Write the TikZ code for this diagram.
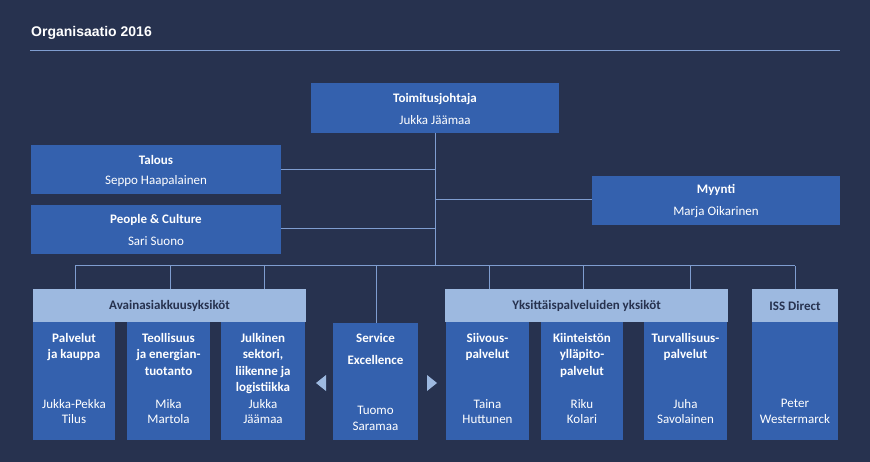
\documentclass[tikz,border=0pt]{standalone}
\usepackage{fontspec}
\setmainfont{Carlito}
\newfontfamily\titlefont{Liberation Sans}
\begin{document}
\begin{tikzpicture}[x=1pt,y=-1pt,
  bg/.style={fill=navy},
  box/.style={fill=boxblue,draw=none},
  hdr/.style={fill=hdrblue,draw=none},
  ln/.style={draw=lineblue,line width=1pt},
  t/.style={text=white,font=\fontsize{13}{15.5}\selectfont,align=center,inner sep=0pt},
  tb/.style={t,font=\fontsize{13}{16.5}\selectfont\bfseries},
  th/.style={text=navy,font=\fontsize{13}{15}\selectfont\bfseries,inner sep=0pt}]
\definecolor{navy}{HTML}{27324F}
\definecolor{boxblue}{HTML}{3461AE}
\definecolor{hdrblue}{HTML}{9DB9E0}
\definecolor{lineblue}{HTML}{7F9DD0}
\useasboundingbox (0,0) rectangle (870,462);
\fill[navy] (0,0) rectangle (870,462);
\node[anchor=west,text=white,font=\titlefont\fontsize{14}{16}\selectfont\bfseries,inner sep=0pt] (title) at (31,33) {Organisaatio 2016};
\draw[lineblue] (30,50) -- (840,50);
% lines
\coordinate (c0) at (435,133);
\coordinate (bus) at (435,266);
\draw[ln] (c0) -- (bus);
\draw[ln] (281,170) -- (435,170);
\draw[ln] (281,229) -- (435,229);
\draw[ln] (435,200) -- (592,200);
\draw[ln] (75,266) -- (795,266);
\foreach \x in {75,170,264,489,583,690,795} \draw[ln] (\x,266) -- (\x,289);
\draw[ln] (376,266) -- (376,323);
% top boxes
\fill[box] (311,83) rectangle (559,133);
\node[tb] (ceo) at (435,99) {Toimitusjohtaja};
\node[t] (ceon) at (435,120) {Jukka Jäämaa};
\fill[box] (31,145) rectangle (281,194);
\node[tb] (tal) at (156,160) {Talous};
\node[t] at (156,181) {Seppo Haapalainen};
\fill[box] (31,205) rectangle (281,254);
\node[tb] (pc) at (156,220) {People \& Culture};
\node[t] at (156,241) {Sari Suono};
\fill[box] (592,176) rectangle (840,225);
\node[tb] (my) at (716,190) {Myynti};
\node[t] at (716,212) {Marja Oikarinen};
% headers
\fill[hdr] (33,289) rectangle (306,322);
\node[th] (h1) at (169.5,306) {Avainasiakkuusyksiköt};
\fill[hdr] (445,289) rectangle (728,322);
\node[th] (h2) at (586.5,306) {Yksittäispalveluiden yksiköt};
\fill[hdr] (752,289) rectangle (838,322);
\node[th] (h3) at (795,306) {ISS Direct};
% columns
\foreach \a/\b/\top/\name [count=\i] in {
  33/115/{Palvelut\\ja kauppa}/{Jukka-Pekka\\Tilus},
  127/210/{Teollisuus\\ja energian-\\tuotanto}/{Mika\\Martola},
  221/305/{Julkinen\\sektori,\\liikenne ja\\logistiikka}/{Jukka\\Jäämaa},
  446/529/{Siivous-\\palvelut}/{Taina\\Huttunen},
  541/623/{Kiinteistön\\ylläpito-\\palvelut}/{Riku\\Kolari},
  644/727/{Turvallisuus-\\palvelut}/{Juha\\Savolainen},
  752/838/{}/{Peter\\Westermarck}}{
  \fill[box] (\a,322) rectangle (\b,440);
  \node[tb,anchor=north] (col\i) at ({(\a+\b)/2},333) {\top};
  \node[t,anchor=north] (nm\i) at ({(\a+\b)/2},399) {\name};
}
\fill[box] (333,323) rectangle (418,440);
\node[tb,anchor=north,font=\fontsize{13}{22}\selectfont\bfseries] (se) at (375.5,333) {Service\\Excellence};
\node[t,anchor=north] (sen) at (375.5,406) {Tuomo\\Saramaa};
\fill[hdrblue] (316,383) -- (326,375) -- (326,391) -- cycle;
\fill[hdrblue] (437,383) -- (427,375) -- (427,391) -- cycle;
\end{tikzpicture}
\end{document}
